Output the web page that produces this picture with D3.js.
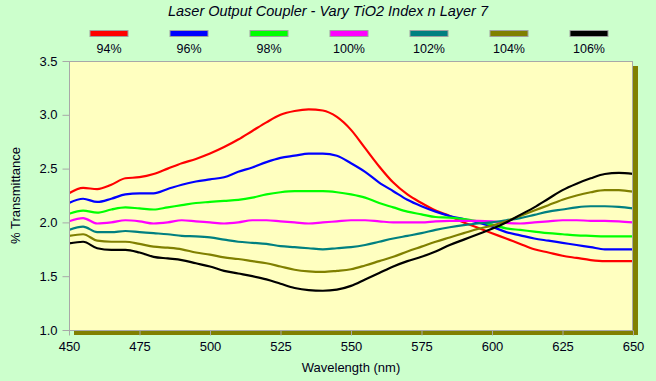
<!DOCTYPE html>
<html><head><meta charset="utf-8">
<script src="https://cdn.jsdelivr.net/npm/d3@7"></script>
<style>
html,body{margin:0;padding:0;background:#ccffcc;}
svg{display:block;font-family:"Liberation Sans",Arial,sans-serif;}
</style></head>
<body>
<svg id="chart" width="656" height="381"></svg>
<script>
const titleText = "Laser Output Coupler - Vary TiO2 Index n Layer 7";
const xLabel = "Wavelength (nm)";
const yLabel = "% Transmittance";
const seriesNames = ["94%","96%","98%","100%","102%","104%","106%"];
const seriesColors = ["#ff0000","#0000ff","#00ff00","#ff00ff","#008080","#808000","#000000"];
const xTicks = [450,475,500,525,550,575,600,625,650];
const yTicks = [1.0,1.5,2.0,2.5,3.0,3.5];
const wavelengths = [450,455,460,465,470,475,480,485,490,495,500,505,510,515,520,525,530,535,540,545,550,555,560,565,570,575,580,585,590,595,600,605,610,615,620,625,630,635,640,645,650];
const s94 = [2.27,2.32,2.31,2.35,2.41,2.42,2.45,2.50,2.55,2.59,2.64,2.70,2.77,2.85,2.93,3.00,3.035,3.05,3.04,2.98,2.86,2.69,2.52,2.37,2.26,2.18,2.11,2.06,2.00,1.95,1.90,1.85,1.80,1.75,1.72,1.69,1.67,1.65,1.64,1.64,1.64];
const s96 = [2.18,2.22,2.19,2.22,2.26,2.27,2.27,2.31,2.35,2.38,2.40,2.42,2.47,2.51,2.56,2.60,2.62,2.64,2.64,2.62,2.55,2.47,2.37,2.29,2.21,2.15,2.10,2.06,2.03,2.00,1.96,1.91,1.88,1.85,1.83,1.81,1.79,1.77,1.75,1.75,1.75];
const s98 = [2.08,2.11,2.09,2.12,2.14,2.13,2.12,2.14,2.16,2.18,2.19,2.20,2.21,2.23,2.26,2.28,2.29,2.29,2.29,2.28,2.26,2.23,2.18,2.14,2.10,2.075,2.05,2.045,2.03,2.01,1.98,1.945,1.93,1.915,1.90,1.89,1.88,1.875,1.87,1.87,1.87];
const s100 = [2.01,2.04,1.99,2.00,2.02,2.01,1.99,2.00,2.02,2.01,2.00,1.99,2.00,2.02,2.02,2.01,2.00,1.99,2.00,2.01,2.02,2.02,2.01,2.00,2.00,2.00,2.01,2.015,2.015,2.015,2.01,1.995,1.99,2.00,2.01,2.02,2.02,2.015,2.015,2.01,2.00];
const s102 = [1.93,1.96,1.91,1.91,1.92,1.91,1.90,1.89,1.875,1.87,1.86,1.84,1.82,1.81,1.80,1.78,1.77,1.76,1.75,1.76,1.77,1.79,1.82,1.85,1.875,1.90,1.93,1.955,1.975,1.99,2.00,2.02,2.04,2.07,2.10,2.12,2.14,2.15,2.15,2.145,2.13];
const s104 = [1.875,1.89,1.83,1.82,1.82,1.80,1.775,1.765,1.75,1.72,1.70,1.675,1.66,1.64,1.62,1.59,1.56,1.545,1.54,1.55,1.565,1.60,1.64,1.68,1.73,1.775,1.82,1.86,1.90,1.94,1.97,2.01,2.06,2.11,2.16,2.21,2.25,2.28,2.30,2.30,2.285];
const s106 = [1.805,1.82,1.76,1.745,1.745,1.72,1.68,1.665,1.65,1.62,1.59,1.55,1.525,1.50,1.47,1.43,1.39,1.37,1.365,1.375,1.41,1.47,1.53,1.59,1.64,1.68,1.73,1.79,1.84,1.89,1.94,2.00,2.07,2.14,2.22,2.30,2.36,2.41,2.45,2.46,2.45];
const seriesValues = [s94,s96,s98,s100,s102,s104,s106];

const svg = d3.select("#chart");
const L = 69, T = 61, R = 633, B = 330;
const x = d3.scaleLinear().domain([450,650]).range([L,R]);
const y = d3.scaleLinear().domain([1.0,3.5]).range([B,T]);
const textColor = "#000018";
const gridGray = "#a8a8a8";

// title
svg.append("text").attr("x", 328).attr("y", 16).attr("text-anchor","middle")
  .attr("font-size", 14.5).attr("font-style","italic").attr("fill", textColor).text(titleText);

// legend
const legend = svg.append("g");
seriesNames.forEach((n,i)=>{
  const cx = 109 + i*80;
  legend.append("rect").attr("x", cx-19).attr("y", 30.5).attr("width", 38).attr("height", 6)
    .attr("fill", seriesColors[i]).attr("stroke", "#a0a0a0").attr("stroke-width", 1);
  legend.append("text").attr("x", cx).attr("y", 53).attr("text-anchor","middle")
    .attr("font-size", 12.5).attr("fill", textColor).text(n);
});

// shadow and plot
svg.append("rect").attr("x", L+5).attr("y", T+5).attr("width", R-L).attr("height", B-T).attr("fill", "#808000");
svg.append("rect").attr("x", L).attr("y", T).attr("width", R-L).attr("height", B-T).attr("fill", "#ffffc0");

svg.append("clipPath").attr("id","clip").append("rect").attr("x", L).attr("y", T).attr("width", R-L).attr("height", B-T);

// lines
const line = d3.line().x((d,i)=>x(wavelengths[i])).y(d=>y(d)).curve(d3.curveMonotoneX);
const lg = svg.append("g").attr("clip-path","url(#clip)");
seriesValues.forEach((vals,i)=>{
  lg.append("path").datum(vals).attr("d", line).attr("fill","none")
    .attr("stroke", seriesColors[i]).attr("stroke-width", 2.2).attr("stroke-linejoin","round");
});

// frame
svg.append("rect").attr("x", L+0.5).attr("y", T+0.5).attr("width", R-L-1).attr("height", B-T)
  .attr("fill","none").attr("stroke", gridGray).attr("stroke-width", 1);

// axes
const yAxis = d3.axisLeft(y).tickValues(yTicks).tickFormat(d3.format(".1f")).tickSize(7).tickPadding(5);
const yg = svg.append("g").attr("transform", `translate(${L+0.5},0)`).call(yAxis);
const xAxis = d3.axisBottom(x).tickValues(xTicks).tickFormat(d3.format("d")).tickSize(5).tickPadding(6);
const xg = svg.append("g").attr("transform", `translate(0,${B+0.5})`).call(xAxis);
[yg,xg].forEach(g=>{
  g.select(".domain").remove();
  g.selectAll(".tick line").attr("stroke", gridGray);
  g.selectAll(".tick text").attr("fill", textColor).attr("font-size", 13)
   .attr("font-family", '"Liberation Sans",Arial,sans-serif');
});

// axis titles
svg.append("text").attr("x", (L+R)/2).attr("y", 372).attr("text-anchor","middle")
  .attr("font-size", 13).attr("fill", textColor).text(xLabel);
svg.append("text").attr("transform", `translate(20,${(T+B)/2}) rotate(-90)`).attr("text-anchor","middle")
  .attr("font-size", 13).attr("fill", textColor).text(yLabel);
</script>
</body></html>
